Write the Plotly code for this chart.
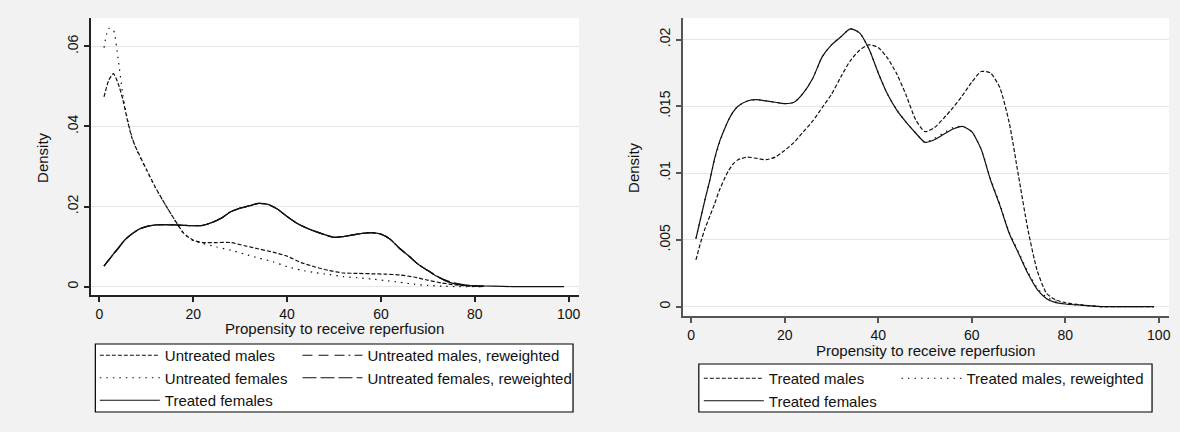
import plotly.graph_objects as go

# ---------------- data ----------------
x_untreated = [1, 2, 3, 4, 5, 6, 7, 8, 10, 12, 14, 16, 18, 20, 22, 25, 28, 31, 34, 37,
               40, 43, 46, 49, 52, 55, 58, 61, 64, 67, 70, 73, 76, 79, 82]
untreated_males = [0.0474, 0.0515, 0.0532, 0.0508, 0.0468, 0.0415, 0.0370, 0.0342, 0.0294, 0.0247,
                   0.0206, 0.0168, 0.0133, 0.0116, 0.0110, 0.0110, 0.0110, 0.0102, 0.0094, 0.0086,
                   0.0076, 0.0060, 0.0049, 0.0040, 0.0034, 0.0033, 0.0032, 0.0031, 0.0029, 0.0024,
                   0.0016, 0.0009, 0.0004, 0.0001, 0.0000]
untreated_females = [0.0597, 0.0645, 0.0641, 0.0570, 0.0480, 0.0418, 0.0372, 0.0340, 0.0292, 0.0246,
                     0.0206, 0.0167, 0.0132, 0.0115, 0.0108, 0.0099, 0.0091, 0.0081, 0.0071, 0.0062,
                     0.0050, 0.0041, 0.0035, 0.0030, 0.0025, 0.0022, 0.0019, 0.0015, 0.0011, 0.0006,
                     0.0003, 0.0001, 0.0000, 0.0000, 0.0000]

x_rw = [1, 2, 3, 4, 5, 6, 7, 8, 9, 10, 12, 14, 16, 18, 20, 22, 24, 26, 28, 30, 32, 34, 36, 38,
        40, 42, 44, 46, 48, 50, 52, 54, 56, 58, 60, 62, 64, 66, 68, 70, 72, 74, 76, 78, 80, 82]
untreated_males_rw = [0.0052, 0.0067, 0.0082, 0.0096, 0.0111, 0.0123, 0.0132, 0.0140, 0.0146, 0.0150,
                      0.0154, 0.0155, 0.0154, 0.0153, 0.0152, 0.0153, 0.0160, 0.0171, 0.0187, 0.0196,
                      0.0202, 0.0208, 0.0205, 0.0193, 0.0175, 0.0159, 0.0147, 0.0138, 0.0130, 0.0123,
                      0.0125, 0.0129, 0.0133, 0.0135, 0.0131, 0.0118, 0.0095, 0.0076, 0.0055, 0.0040,
                      0.0025, 0.0014, 0.0007, 0.0004, 0.0002, 0.0001]
untreated_females_rw = [0.0051, 0.0066, 0.0081, 0.0095, 0.0110, 0.0122, 0.0132, 0.0140, 0.0146, 0.0150,
                        0.0154, 0.0155, 0.0154, 0.0153, 0.0152, 0.0153, 0.0160, 0.0171, 0.0187, 0.0196,
                        0.0202, 0.0208, 0.0205, 0.0193, 0.0175, 0.0159, 0.0147, 0.0138, 0.0130, 0.0123,
                        0.0125, 0.0129, 0.0133, 0.0135, 0.0131, 0.0118, 0.0095, 0.0076, 0.0055, 0.0040,
                        0.0026, 0.0015, 0.0008, 0.0004, 0.0002, 0.0001]

x_treated = [1, 2, 3, 4, 5, 6, 7, 8, 9, 10, 12, 14, 16, 18, 20, 22, 24, 26, 28, 30, 32, 34, 36, 38,
             40, 42, 44, 46, 48, 50, 52, 54, 56, 58, 60, 62, 64, 66, 68, 70, 72, 74, 76, 78, 80,
             84, 88, 92, 96, 99]
treated_females = [0.0051, 0.0066, 0.0081, 0.0095, 0.0111, 0.0123, 0.0132, 0.0140, 0.0146, 0.0150,
                   0.0154, 0.0155, 0.0154, 0.0153, 0.0152, 0.0153, 0.0160, 0.0171, 0.0187, 0.0196,
                   0.0202, 0.0208, 0.0205, 0.0193, 0.0175, 0.0159, 0.0147, 0.0138, 0.0130, 0.0123,
                   0.0125, 0.0129, 0.0133, 0.0135, 0.0131, 0.0118, 0.0095, 0.0076, 0.0055, 0.0040,
                   0.0025, 0.0013, 0.0006, 0.0003, 0.0002, 0.0001, 0.0000, 0.0000, 0.0000, 0.0000]
treated_males = [0.0035, 0.0048, 0.0059, 0.0068, 0.0077, 0.0087, 0.0095, 0.0102, 0.0107, 0.0110,
                 0.0112, 0.0111, 0.0110, 0.0112, 0.0117, 0.0123, 0.0131, 0.0139, 0.0149, 0.0159,
                 0.0172, 0.0184, 0.0192, 0.0196, 0.0194, 0.0186, 0.0174, 0.0158, 0.0140, 0.0131,
                 0.0134, 0.0141, 0.0149, 0.0158, 0.0168, 0.0176, 0.0175, 0.0164, 0.0138, 0.0098,
                 0.0058, 0.0027, 0.0010, 0.0005, 0.0003, 0.0001, 0.0000, 0.0000, 0.0000, 0.0000]
treated_males_rw = [0.0051, 0.0066, 0.0081, 0.0095, 0.0110, 0.0122, 0.0132, 0.0140, 0.0146, 0.0150,
                    0.0154, 0.0155, 0.0154, 0.0153, 0.0152, 0.0153, 0.0160, 0.0171, 0.0187, 0.0196,
                    0.0202, 0.0208, 0.0205, 0.0193, 0.0175, 0.0159, 0.0147, 0.0138, 0.0130, 0.0123,
                    0.0126, 0.0130, 0.0134, 0.0135, 0.0131, 0.0118, 0.0096, 0.0077, 0.0056, 0.0041,
                    0.0026, 0.0014, 0.0007, 0.0004, 0.0002, 0.0001, 0.0000, 0.0000, 0.0000, 0.0000]

x_ticks = [0, 20, 40, 60, 80, 100]
left_yticks = [0, 0.02, 0.04, 0.06]
left_ytext = ["0", ".02", ".04", ".06"]
right_yticks = [0, 0.005, 0.01, 0.015, 0.02]
right_ytext = ["0", ".005", ".01", ".015", ".02"]

# ---------------- figure ----------------
W, H = 1180, 432
FONT = "Liberation Sans, Arial, sans-serif"
INK = "#111111"


def px(x):
    return x / W


def py(y):
    return 1 - y / H


fig = go.Figure()


def add_line(x, y, name, dash, xa, ya, legend):
    fig.add_trace(go.Scatter(
        x=x, y=y, name=name, mode="lines", xaxis=xa, yaxis=ya, legend=legend,
        line=dict(color=INK, width=1.2, dash=dash, shape="spline", smoothing=0.6),
        hoverinfo="skip"))


add_line(x_untreated, untreated_males, "Untreated males", "4px,2px", "x", "y", "legend")
add_line(x_untreated, untreated_females, "Untreated females", "1.5px,5px", "x", "y", "legend")
add_line(x_treated, treated_females, "Treated females", "solid", "x", "y", "legend")
add_line(x_rw, untreated_males_rw, "Untreated males, reweighted", "10px,6px,10px,6px,10px,4px,2px,4px", "x", "y", "legend2")
add_line(x_rw, untreated_females_rw, "Untreated females, reweighted", "14px,4px", "x", "y", "legend2")

add_line(x_treated, treated_males, "Treated males", "4px,2px", "x2", "y2", "legend3")
add_line(x_treated, treated_females, "Treated females", "solid", "x2", "y2", "legend3")
add_line(x_treated, treated_males_rw, "Treated males, reweighted", "1.5px,5px", "x2", "y2", "legend4")

tickfont = dict(family=FONT, size=14, color=INK)


def xaxis(domain, color):
    return dict(domain=domain, range=[-1.8, 102.2], tickvals=x_ticks, ticks="outside",
                ticklen=5, tickwidth=1.5, tickcolor=color, showline=True, linecolor=color,
                linewidth=1.6, showgrid=False, zeroline=False, tickfont=tickfont)


def yaxis(domain, rng, vals, text, color, anchor):
    return dict(domain=domain, range=rng, tickvals=vals, ticktext=text, ticks="outside",
                ticklen=5, tickwidth=1.5, tickcolor=color, showline=True, linecolor=color,
                linewidth=1.6, showgrid=True, gridcolor="#e6e6e6", gridwidth=1,
                zeroline=False, tickangle=-90, tickfont=tickfont, anchor=anchor)


legfont = dict(family=FONT, size=15, color=INK)


def legend(x, y):
    return dict(x=px(x), y=py(y), xanchor="left", yanchor="top", bgcolor="rgba(0,0,0,0)",
                borderwidth=0, font=legfont, itemwidth=60, traceorder="normal",
                tracegroupgap=0, itemclick=False, itemdoubleclick=False)


def note(text, x, y, angle=0):
    return dict(text=text, x=px(x), y=py(y), xref="paper", yref="paper", showarrow=False,
                xanchor="center", yanchor="middle", textangle=angle,
                font=dict(family=FONT, size=15, color=INK))


fig.update_layout(
    width=W, height=H,
    paper_bgcolor="#f2f2f2", plot_bgcolor="#ffffff",
    margin=dict(l=0, r=0, t=0, b=0),
    font=dict(family=FONT, size=15, color=INK),
    xaxis=xaxis([px(91), px(580)], "#222222") | dict(anchor="y"),
    yaxis=yaxis([1 - 295 / H, 1 - 18 / H], [-0.0021, 0.0671], left_yticks, left_ytext, "#222222", "x"),
    xaxis2=xaxis([px(684), px(1171)], "#555555") | dict(anchor="y2"),
    yaxis2=yaxis([1 - 316 / H, 1 - 18 / H], [-0.0007, 0.02161], right_yticks, right_ytext, "#555555", "x2"),
    legend=legend(95, 339),
    legend2=legend(298, 339),
    legend3=legend(700, 362),
    legend4=legend(898, 362),
    showlegend=True,
    shapes=[
        dict(type="rect", xref="paper", yref="paper", x0=px(95.5), x1=px(574), y0=py(412), y1=py(344),
             line=dict(color="#000000", width=1.2), fillcolor="#ffffff", layer="below"),
        dict(type="rect", xref="paper", yref="paper", x0=px(700), x1=px(1154), y0=py(412), y1=py(364),
             line=dict(color="#000000", width=1.2), fillcolor="#ffffff", layer="below"),
    ],
    annotations=[
        note("Density", 42, 157, -90),
        note("Density", 634, 167, -90),
        note("Propensity to receive reperfusion", 335.5, 328),
        note("Propensity to receive reperfusion", 927.5, 350.5),
    ],
)

fig.write_html("out.html", config={"displayModeBar": False},
               post_script="document.body.style.margin='0';document.body.style.padding='0';")
